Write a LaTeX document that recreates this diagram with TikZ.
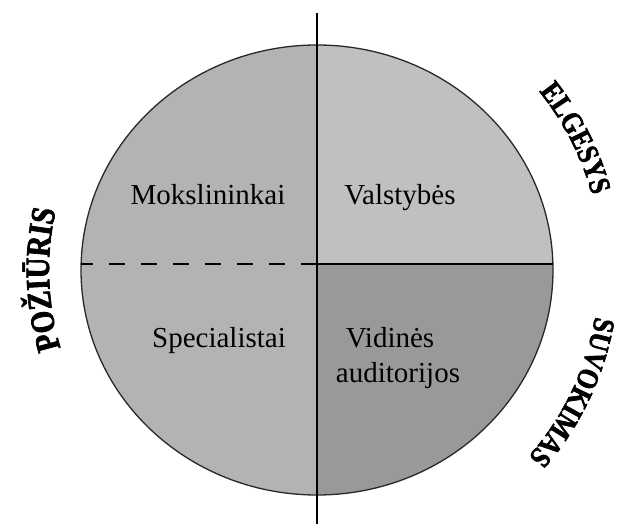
\documentclass[tikz,border=0pt]{standalone}
\usepackage{fontspec}
\setmainfont{Liberation Serif}
\newfontfamily\arcfont[FakeStretch=0.85,FakeBold=2]{Liberation Serif}
\usetikzlibrary{calc,decorations.text}
\definecolor{quadmid}{RGB}{179,179,179}
\definecolor{quadlight}{RGB}{192,192,192}
\definecolor{quaddark}{RGB}{153,153,153}
\definecolor{rim}{RGB}{40,40,40}
\begin{document}
\begin{tikzpicture}[x=1pt,y=1pt,
  label/.style={font=\fontsize{29}{35}\selectfont, inner sep=0pt, anchor=base},
  axis/.style={line width=2.6pt, black},
  divider/.style={line width=1.8pt, black},
  dashdivider/.style={line width=1.8pt, black, dash pattern=on 16pt off 16pt}]
\useasboundingbox (0,0) rectangle (617,524);

% centre of the disc and crossing point of the two dividers
\coordinate (c) at (317,254);
\coordinate (x) at (317,260);
\coordinate (top) at (317,511);
\coordinate (bot) at (317,0);
\coordinate (left) at (81,260);
\coordinate (right) at (553,260);

% four shaded quarters
\begin{scope}
  \clip (c) ellipse [x radius=236, y radius=225];
  \fill[quadmid]   (70,260) rectangle (317,490);
  \fill[quadlight] (317,260) rectangle (560,490);
  \fill[quadmid]   (70,20) rectangle (317,260);
  \fill[quaddark]  (317,20) rectangle (560,260);
\end{scope}
\draw[rim, line width=1.3pt] (c) ellipse [x radius=236, y radius=225];

% dividers
\draw[dashdivider] (x) -- (left);
\draw[divider] (x) -- (right);
\draw[axis] (top) -- (bot);

% quarter labels
\node[label] (mok) at (208,319) {Mokslininkai};
\node[label] (val) at (400,319) {Valstybės};
\node[label] (spe) at (219,176) {Specialistai};
\node[label] (vid) at (390,176) {Vidinės};
\node[label] (aud) at (398,141) {auditorijos};

% curved captions around the disc
\path[decorate, decoration={text along path, text align=center,
    text={|\arcfont\bfseries\fontsize{34}{34}\selectfont|POŽIŪRIS}}]
  ($(c)+(222:268)$) arc[start angle=222, end angle=142, radius=268];
\path[decorate, decoration={text along path, text align=center,
    text={|\arcfont\bfseries\fontsize{30}{30}\selectfont|ELGESYS}}]
  ($(c)+(67:285)$) arc[start angle=67, end angle=-13, radius=285];
\path[decorate, decoration={text along path, text align=center,
    text={|\arcfont\bfseries\fontsize{30}{30}\selectfont|SUVOKIMAS}}]
  ($(c)+(15:282)$) arc[start angle=15, end angle=-66, radius=282];
\end{tikzpicture}
\end{document}
